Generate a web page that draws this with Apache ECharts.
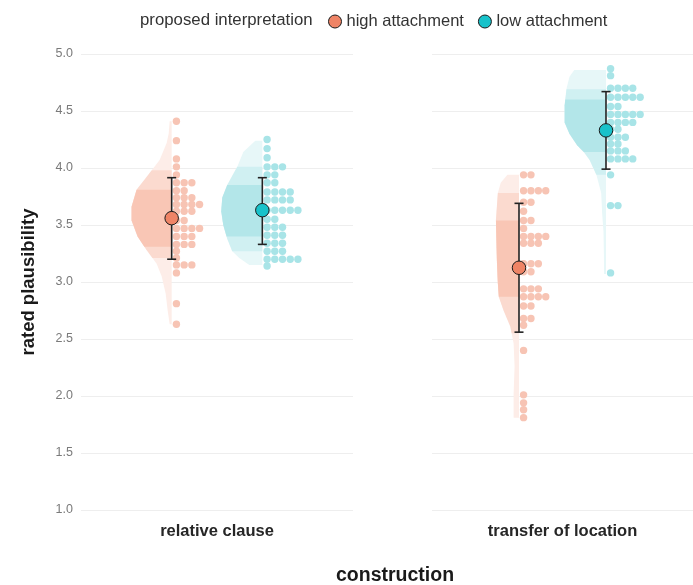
<!DOCTYPE html>
<html>
<head>
<meta charset="utf-8">
<script src="https://cdn.jsdelivr.net/npm/echarts@6/dist/echarts.min.js"></script>
<style>
html,body{margin:0;padding:0;background:#fff;}
#chart{width:693px;height:585px;}
</style>
</head>
<body>
<div id="chart"></div>
<script>
// ---------- data ----------
const categories = ['relative clause', 'transfer of location'];
const groups = ['high attachment', 'low attachment'];
const legendTitle = 'proposed interpretation';
const yTickLabels = ['1.0','1.5','2.0','2.5','3.0','3.5','4.0','4.5','5.0'];

// individual ratings (one dot each), read from the dot stacks
const rcHighValues = [4.41, 4.24, 4.08, 4.01, 3.94, 3.87,3.87,3.87, 3.80,3.80, 3.74,3.74,3.74,
  3.68,3.68,3.68,3.68, 3.62,3.62,3.62, 3.54,3.54, 3.47,3.47,3.47,3.47, 3.40,3.40,3.40,
  3.33,3.33,3.33, 3.27, 3.21, 3.15,3.15,3.15, 3.08, 2.81, 2.63];
const rcLowValues = [4.25, 4.17, 4.09, 4.01,4.01,4.01, 3.94,3.94, 3.87,3.87, 3.79,3.79,3.79,3.79,
  3.72,3.72,3.72,3.72, 3.63,3.63,3.63,3.63,3.63, 3.55,3.55, 3.48,3.48,3.48, 3.41,3.41,3.41,
  3.34,3.34,3.34, 3.27,3.27,3.27, 3.20,3.20,3.20,3.20,3.20, 3.14];
const tlHighValues = [3.94,3.94, 3.80,3.80,3.80,3.80, 3.70,3.70, 3.62, 3.54,3.54, 3.47,
  3.40,3.40,3.40,3.40, 3.34,3.34,3.34, 3.16,3.16,3.16, 3.09,3.09, 2.94,2.94,2.94,
  2.87,2.87,2.87,2.87, 2.79,2.79, 2.68,2.68, 2.62, 2.40, 2.01, 1.94, 1.88, 1.81];
const tlLowValues = [4.87, 4.81, 4.70,4.70,4.70,4.70, 4.62,4.62,4.62,4.62,4.62, 4.54,4.54,
  4.47,4.47,4.47,4.47,4.47, 4.40,4.40,4.40,4.40, 4.34,4.34, 4.27,4.27,4.27, 4.21,4.21,
  4.15,4.15,4.15, 4.08,4.08,4.08,4.08, 3.94, 3.67,3.67, 3.08];

// half-violin outlines: [rating, relative density]
const rcHighSlab = [[4.41,2],[4.30,3],[4.22,5],[4.07,12],[3.92,25],[3.81,35],[3.66,40],[3.54,40],
  [3.40,34],[3.28,25],[3.16,15],[3.05,10],[2.90,6],[2.75,4],[2.63,2]];
const rcLowSlab = [[4.24,7],[4.14,19],[4.01,25],[3.85,35],[3.74,40],[3.62,41],[3.50,39],
  [3.38,35],[3.27,30],[3.21,23],[3.15,13]];
const tlHighSlab = [[3.94,12],[3.87,19],[3.78,22],[3.54,24],[3.19,23],[2.99,22],[2.87,21],
  [2.75,16],[2.61,9],[2.46,5.6],[2.26,4.6],[2.02,5.6],[1.81,5.6]];
const tlLowSlab = [[4.86,33],[4.80,38],[4.70,41],[4.55,43],[4.40,43],[4.30,38],[4.20,30],
  [4.14,23],[4.07,17],[3.94,10],[3.78,5],[3.60,4],[3.44,2.6],[3.25,2.2],[3.07,2]];

// interval bands: [outer low, inner low, inner high, outer high]
const rcHighBands = [3.21, 3.31, 3.81, 3.98];
const rcLowBands = [3.27, 3.40, 3.85, 4.01];
const tlHighBands = [2.55, 2.87, 3.54, 3.78];
const tlLowBands = [3.94, 4.14, 4.60, 4.69];

// summary: [mean, lower, upper]
const rcHighStats = [3.56, 3.20, 3.915];
const rcLowStats = [3.63, 3.33, 3.915];
const tlHighStats = [3.125, 2.56, 3.69];
const tlLowStats = [4.33, 3.99, 4.67];

// ---------- styling ----------
const FONT = 'Liberation Sans, Arial, Helvetica, sans-serif';
const GROUP_X = [0.8, 1.2];
const SLAB_MAX_X = 0.19;    // x-units for the largest density
const SLAB_DENS_MAX = 43;
const DOT_OFFSET = 0.021;
const DOT_STEP = 0.034;
const palette = {
  high: {point:'#EF8466', dot:'#F7C4B4', light:'#FDEDE8', mid:'#FBDACF', dark:'#F9C6B5'},
  low:  {point:'#18C2CA', dot:'#A8E4E7', light:'#E7F7F8', mid:'#D0F0F2', dark:'#B3E6E9'}
};

function widthAt(slab, v) {
  for (let i = 0; i < slab.length - 1; i++) {
    const a = slab[i], b = slab[i+1];
    if (v <= a[0] && v >= b[0]) {
      const t = (a[0] - v) / (a[0] - b[0] || 1);
      return a[1] + t * (b[1] - a[1]);
    }
  }
  return v > slab[0][0] ? slab[0][1] : slab[slab.length-1][1];
}
function clipSlab(slab, lo, hi) {
  const top = Math.min(hi, slab[0][0]);
  const bot = Math.max(lo, slab[slab.length-1][0]);
  if (top <= bot) return null;
  const pts = [[top, widthAt(slab, top)]];
  slab.forEach(p => { if (p[0] < top && p[0] > bot) pts.push(p); });
  pts.push([bot, widthAt(slab, bot)]);
  return pts;
}

function slabSeries(gi, gx, slab, bands, col) {
  return {
    type: 'custom', xAxisIndex: gi, yAxisIndex: gi, z: 1, silent: true,
    data: [[gx, slab[0][0]]],
    renderItem: function (params, api) {
      const xPx = api.coord([gx, 3])[0];
      const k = api.size([1, 0])[0] * SLAB_MAX_X / SLAB_DENS_MAX;
      const poly = (pts, fill) => {
        if (!pts) return null;
        const left = pts.map(p => [xPx - p[1] * k, api.coord([gx, p[0]])[1]]);
        const topY = api.coord([gx, pts[0][0]])[1];
        const botY = api.coord([gx, pts[pts.length-1][0]])[1];
        return {type: 'polygon', shape: {points: left.concat([[xPx, botY], [xPx, topY]])},
          style: {fill: fill, stroke: null}};
      };
      const children = [
        poly(clipSlab(slab, -Infinity, Infinity), col.light),
        poly(clipSlab(slab, bands[0], bands[3]), col.mid),
        poly(clipSlab(slab, bands[1], bands[2]), col.dark)
      ].filter(Boolean);
      return {type: 'group', children: children};
    }
  };
}
function dotSeries(gi, gx, values, col) {
  const counts = {};
  const data = values.map(v => {
    const key = v.toFixed(3);
    const c = counts[key] || 0;
    counts[key] = c + 1;
    return [gx + DOT_OFFSET + c * DOT_STEP, v];
  });
  return {type: 'scatter', xAxisIndex: gi, yAxisIndex: gi, z: 2, silent: true,
    symbol: 'circle', symbolSize: 7.4, itemStyle: {color: col.dot, opacity: 1}, data: data};
}
function errorSeries(gi, gx, stats) {
  return {
    type: 'custom', xAxisIndex: gi, yAxisIndex: gi, z: 3, silent: true,
    data: [[gx, stats[1], stats[2]]],
    renderItem: function (params, api) {
      const lo = api.coord([api.value(0), api.value(1)]);
      const hi = api.coord([api.value(0), api.value(2)]);
      const st = {stroke: '#222', lineWidth: 1.6};
      return {type: 'group', children: [
        {type: 'line', shape: {x1: lo[0], y1: lo[1], x2: hi[0], y2: hi[1]}, style: st},
        {type: 'line', shape: {x1: lo[0]-4.5, y1: lo[1], x2: lo[0]+4.5, y2: lo[1]}, style: st},
        {type: 'line', shape: {x1: hi[0]-4.5, y1: hi[1], x2: hi[0]+4.5, y2: hi[1]}, style: st}
      ]};
    }
  };
}
function meanSeries(gi, gx, stats, name, col) {
  return {type: 'scatter', name: name, xAxisIndex: gi, yAxisIndex: gi, z: 4, silent: true,
    symbol: 'circle', symbolSize: 13.5,
    itemStyle: {color: col.point, borderColor: '#1a1a1a', borderWidth: 1, opacity: 1},
    data: [[gx, stats[0]]]};
}

const panels = [
  {high: [rcHighValues, rcHighSlab, rcHighBands, rcHighStats],
   low: [rcLowValues, rcLowSlab, rcLowBands, rcLowStats]},
  {high: [tlHighValues, tlHighSlab, tlHighBands, tlHighStats],
   low: [tlLowValues, tlLowSlab, tlLowBands, tlLowStats]}
];
const series = [];
panels.forEach((p, gi) => {
  [['high', 0], ['low', 1]].forEach(([key, idx]) => {
    const d = p[key], col = palette[key], gx = GROUP_X[idx];
    series.push(slabSeries(gi, gx, d[1], d[2], col));
    series.push(dotSeries(gi, gx, d[0], col));
    series.push(errorSeries(gi, gx, d[3]));
    series.push(meanSeries(gi, gx, d[3], groups[idx], col));
  });
});

const gridTop = 54, gridH = 456;
const yAxisBase = (gi) => ({
  type: 'value', gridIndex: gi, min: 1, max: 5, interval: 0.5,
  axisLine: {show: false}, axisTick: {show: false},
  splitLine: {show: true, lineStyle: {color: '#EEEEEE', width: 1}},
  axisLabel: {show: gi === 0, color: '#7a7a7a', fontSize: 12.5, fontFamily: FONT, margin: 8,
    formatter: v => yTickLabels[Math.round((v - 1) / 0.5)] || ''}
});
const catAxis = (gi) => ({
  type: 'category', gridIndex: gi, position: 'bottom', data: [categories[gi]], boundaryGap: true,
  axisLine: {show: false}, axisTick: {show: false}, splitLine: {show: false},
  axisLabel: {color: '#262626', fontSize: 16.5, fontWeight: 'bold', fontFamily: FONT, margin: 13}
});

const option = {
  animation: false,
  backgroundColor: '#ffffff',
  textStyle: {fontFamily: FONT},
  grid: [
    {left: 81, top: gridTop, width: 272, height: gridH},
    {left: 432, top: gridTop, width: 272, height: gridH}
  ],
  xAxis: [
    {type: 'value', gridIndex: 0, position: 'top', min: 0.4, max: 1.6, show: false},
    {type: 'value', gridIndex: 1, position: 'top', min: 0.4, max: 1.6, show: false},
    catAxis(0),
    catAxis(1)
  ],
  yAxis: [
    Object.assign(yAxisBase(0), {name: 'rated plausibility', nameLocation: 'middle', nameGap: 43,
      nameTextStyle: {color: '#1a1a1a', fontSize: 18.5, fontWeight: 'bold', fontFamily: FONT}}),
    yAxisBase(1)
  ],
  legend: {
    data: groups, top: 13, left: 328, padding: 0, icon: 'circle', itemWidth: 13, itemHeight: 13, itemGap: 14,
    textStyle: {color: '#333', fontSize: 16.5, fontFamily: FONT},
    itemStyle: {borderColor: '#1a1a1a', borderWidth: 1}
  },
  graphic: [
    {type: 'text', left: 140, top: 12,
     style: {text: legendTitle, fill: '#333', fontSize: 16.8, fontFamily: FONT}},
    {type: 'text', x: 395, y: 576,
     style: {text: 'construction', fill: '#1a1a1a', fontSize: 19.5, fontWeight: 'bold', fontFamily: FONT,
       textAlign: 'center', textVerticalAlign: 'middle'}}
  ],
  series: series
};

const chart = echarts.init(document.getElementById('chart'), null, {renderer: 'canvas'});
chart.setOption(option);
</script>
</body>
</html>
